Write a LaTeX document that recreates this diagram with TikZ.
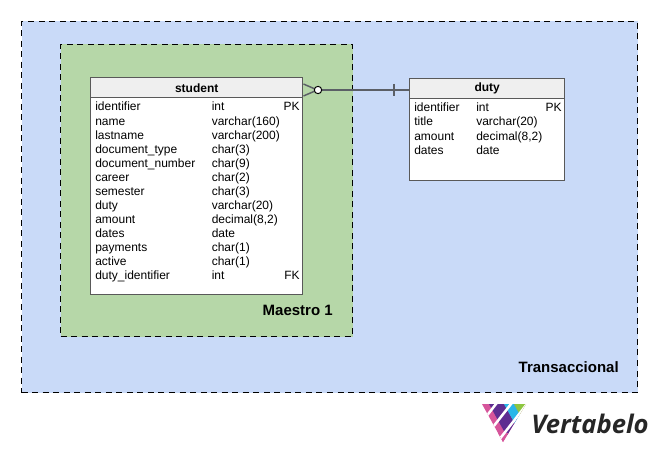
\documentclass[tikz,border=0pt]{standalone}
\usepackage{fontspec}
\setmainfont{Liberation Sans}
\newfontfamily\logofont{Open Sans}
\definecolor{bluearea}{HTML}{C9DAF8}
\definecolor{greenarea}{HTML}{B6D7A8}
\definecolor{headfill}{HTML}{EFEFEF}
\definecolor{tableline}{HTML}{595959}
\definecolor{linkline}{HTML}{5B5F66}
\definecolor{lgpink}{HTML}{D6559B}
\definecolor{lgpurple}{HTML}{5E2D91}
\definecolor{lgblue}{HTML}{29B6E8}
\definecolor{lggreen}{HTML}{8DC63F}
\tikzset{
  x=0.75pt,y=-0.75pt,
  area/.style={draw=black,dash pattern=on 4.5pt off 3.4pt,line width=0.75pt,inner sep=0},
  tablebox/.style={draw=tableline,fill=white,line width=1.1pt,inner sep=0},
  tablehead/.style={draw=tableline,fill=headfill,line width=1.1pt,inner sep=0,font=\fontsize{9}{10}\selectfont\bfseries},
  cell/.style={inner sep=0,anchor=base west,font=\fontsize{9}{10}\selectfont},
  cellr/.style={inner sep=0,anchor=base east,font=\fontsize{9}{10}\selectfont},
  arealabel/.style={inner sep=0,anchor=base east,font=\fontsize{11.25}{12}\selectfont\bfseries},
  link/.style={draw=linkline,line width=1.1pt},
}
\begin{document}
\begin{tikzpicture}
\useasboundingbox (0,0) rectangle (657,453);
\node[area,fill=bluearea,minimum width=462pt,minimum height=278.25pt,anchor=north west] (trans) at (21,21) {};
\node[area,fill=greenarea,minimum width=219pt,minimum height=219pt,anchor=north west] (maestro) at (60,44) {};
\node[arealabel] (ltrans) at (619,372) {Transaccional};
\node[arealabel] (lmaestro) at (333,315) {Maestro 1};

\node[tablebox,minimum width=159pt,minimum height=162.75pt,anchor=north west] (student) at (90,77) {};
\node[tablehead,minimum width=159pt,minimum height=15pt,anchor=north west] (studenthead) at (90,77) {student};
\node[tablebox,minimum width=116.25pt,minimum height=76.5pt,anchor=north west] (duty) at (409,78) {};
\node[tablehead,minimum width=116.25pt,minimum height=15pt,anchor=north west] (dutyhead) at (409,78) {duty};

\foreach \a/\b [count=\i from 0] in {identifier/int,name/varchar(160),lastname/varchar(200),document\_type/char(3),document\_number/char(9),career/char(2),semester/char(3),duty/varchar(20),amount/{decimal(8,2)},dates/date,payments/char(1),active/char(1),duty\_identifier/int}{
  \pgfmathsetmacro{\yy}{111+14*\i}
  \node[cell] (s\i a) at (95,\yy) {\a};
  \node[cell] (s\i b) at (211.5,\yy) {\b};
}
\node[cellr] (spk) at (300,111) {PK};
\node[cellr] (sfk) at (300,279) {FK};
\foreach \a/\b [count=\i from 0] in {identifier/int,title/varchar(20),amount/{decimal(8,2)},dates/date}{
  \pgfmathsetmacro{\yy}{112+14*\i}
  \node[cell] (d\i a) at (414,\yy) {\a};
  \node[cell] (d\i b) at (476,\yy) {\b};
}
\node[cellr] (dpk) at (562,112) {PK};

% connector
\coordinate (circ) at (318,90);
\draw[link] (circ) -- (duty.west |- circ);
\draw[link] (394,84) -- (394,96);
\draw[link] (student.east |- 0,84) -- (315,89) (student.east |- 0,96) -- (315,91);
\node[draw=black,fill=white,circle,line width=0.75pt,minimum size=5.5pt,inner sep=0] (circnode) at (circ) {};

% logo
\begin{scope}
\clip (482,404) -- (526,404) -- (503,442) -- cycle;
\fill[lgpink] (470,400) rectangle (530,445);
\fill[lgpurple] (489,404) -- (504,404) -- (526,443.8) -- (511,443.8) -- cycle;
\fill[lgblue] (504,404) -- (514,404) -- (536,443.8) -- (526,443.8) -- cycle;
\fill[lggreen] (514,404) -- (540,404) -- (540,443.8) -- (536,443.8) -- cycle;
\fill[lgpink] (490,433) rectangle (520,445);
\foreach \s in {496,511,527}
  \draw[white,line width=1.9pt] (\s+3.12,400) -- (\s-39,454);
\end{scope}
\node[inner sep=0,anchor=base west,font=\logofont\fontsize{19.2}{24}\selectfont\bfseries\itshape,text=black!85] (vert) at (531,433) {Vertabelo};
\end{tikzpicture}
\end{document}
